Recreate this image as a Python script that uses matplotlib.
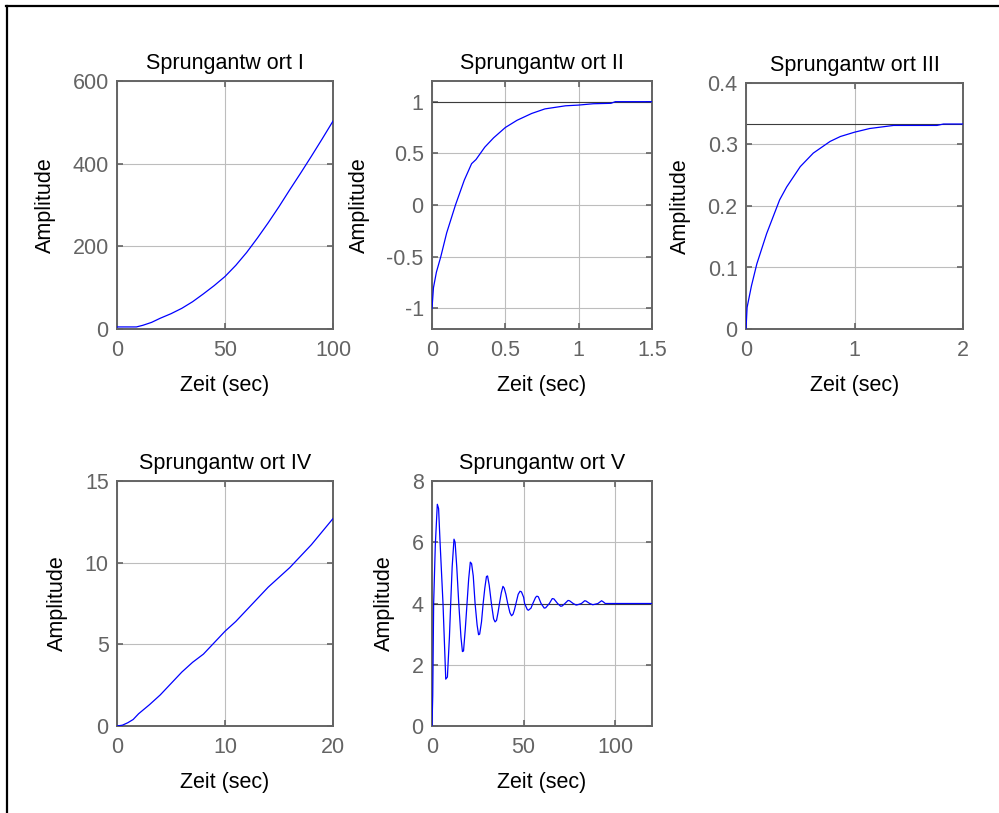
import matplotlib

matplotlib.use("Agg")
import matplotlib.pyplot as plt
from matplotlib.lines import Line2D

plt.rcParams["font.family"] = ["Liberation Sans", "DejaVu Sans"]
plt.rcParams["axes.unicode_minus"] = False

# Sprungantwort I
zeit_1 = [0, 5, 9, 12, 16, 20, 25, 30, 35, 40, 45, 50, 55, 60, 65, 70, 75, 80, 85, 90, 95, 100]
ampl_1 = [5, 5, 5, 9, 16, 26, 37, 50, 66, 85, 105, 127, 154, 185, 220, 257, 296, 337, 377, 418, 460, 503]

# Sprungantwort II
zeit_2 = [0, 0.01, 0.03, 0.06, 0.1, 0.16, 0.22, 0.27, 0.3, 0.36, 0.42, 0.5, 0.58, 0.68,
          0.77, 0.84, 0.91, 1.0, 1.1, 1.22, 1.25, 1.5]
ampl_2 = [-1, -0.8, -0.65, -0.5, -0.27, 0, 0.24, 0.4, 0.44, 0.56, 0.65, 0.75, 0.82, 0.886,
          0.93, 0.945, 0.96, 0.967, 0.98, 0.984, 1.0, 1.0]

# Sprungantwort III
zeit_3 = [0, 0.01, 0.05, 0.1, 0.19, 0.31, 0.375, 0.5, 0.62, 0.775, 0.87, 1.0, 1.14, 1.36,
          1.76, 1.82, 2.0]
ampl_3 = [0, 0.035, 0.07, 0.106, 0.155, 0.21, 0.231, 0.264, 0.286, 0.305, 0.313, 0.32,
          0.326, 0.331, 0.331, 0.3333, 0.3333]

# Sprungantwort IV
zeit_4 = [0, 0.5, 1, 1.5, 2, 3, 4, 5, 6, 7, 8, 9, 10, 11, 12, 13, 14, 15, 16, 17, 18, 19, 20]
ampl_4 = [0, 0.05, 0.2, 0.4, 0.75, 1.3, 1.9, 2.6, 3.3, 3.9, 4.4, 5.1, 5.8, 6.4, 7.1, 7.8,
          8.5, 9.1, 9.7, 10.4, 11.1, 11.9, 12.7]

# Sprungantwort V
zeit_5 = [0, 0.4, 0.9, 1.8, 2.9, 3.6, 4.4, 6.0, 7.5, 8.4, 9.5, 10.2, 11.0, 12.0, 12.6, 13.5,
          14.6, 15.8, 16.6, 17.2, 18.2, 19.1, 20.0, 20.9, 21.6, 22.5, 23.5, 24.6, 25.4, 26.0,
          27.0, 27.9, 28.8, 29.7, 30.3, 31.2, 32.4, 33.6, 34.4, 35.2, 36.0, 36.8, 37.8, 38.7,
          39.4, 40.3, 41.3, 42.5, 43.4, 44.2, 45.0, 45.8, 47.0, 48.0, 48.8, 50.0, 50.5, 52.0,
          52.6, 54.0, 55.0, 56.5, 57.2, 58.0, 59.5, 61.2, 62.0, 64.0, 65.6, 66.5, 68.5, 70.2,
          71.0, 72.5, 74.2, 75.0, 77.0, 78.6, 79.5, 81.5, 83.3, 84.0, 86.0, 87.7, 88.5, 90.5,
          92.5, 93.5, 94.5, 120]
ampl_5 = [0, 1.0, 4.0, 5.9, 7.24, 7.1, 6.0, 4.0, 1.53, 1.6, 2.9, 4.0, 5.2, 6.1, 6.0, 5.2,
          4.0, 2.9, 2.43, 2.45, 3.2, 4.0, 4.8, 5.35, 5.3, 4.9, 4.0, 3.3, 2.98, 3.0,
          3.4, 4.0, 4.5, 4.88, 4.9, 4.6, 4.0, 3.5, 3.4, 3.45, 3.7, 4.0, 4.35, 4.56,
          4.5, 4.3, 4.0, 3.7, 3.6, 3.65, 3.8, 4.0, 4.3, 4.4, 4.38, 4.2, 4.0, 3.8,
          3.78, 3.85, 4.0, 4.2, 4.24, 4.22, 4.0, 3.85, 3.86, 4.0, 4.16, 4.15, 4.0, 3.91,
          3.92, 4.0, 4.1, 4.09, 4.0, 3.95, 3.96, 4.0, 4.09, 4.08, 4.0, 3.96, 3.97, 4.0,
          4.09, 4.05, 4.0, 4.0]

titel = ["Sprungantw ort I", "Sprungantw ort II", "Sprungantw ort III",
         "Sprungantw ort IV", "Sprungantw ort V"]
endwerte = [None, 1.0, 0.3333, None, 4.0]
x_ticks = [[0, 50, 100], [0, 0.5, 1, 1.5], [0, 1, 2], [0, 10, 20], [0, 50, 100]]
x_labels = [["0", "50", "100"], ["0", "0.5", "1", "1.5"], ["0", "1", "2"],
            ["0", "10", "20"], ["0", "50", "100"]]
y_ticks = [[0, 200, 400, 600], [-1, -0.5, 0, 0.5, 1], [0, 0.1, 0.2, 0.3, 0.4],
           [0, 5, 10, 15], [0, 2, 4, 6, 8]]
y_labels = [["0", "200", "400", "600"], ["-1", "-0.5", "0", "0.5", "1"],
            ["0", "0.1", "0.2", "0.3", "0.4"], ["0", "5", "10", "15"],
            ["0", "2", "4", "6", "8"]]
x_lim = [(0, 100), (0, 1.5), (0, 2), (0, 20), (0, 120)]
y_lim = [(0, 600), (-1.2, 1.2), (0, 0.4), (0, 15), (0, 8)]

# Position der Achsen in Pixeln (links, oben, rechts, unten)
W, H = 999, 813
boxen = [
    (117, 81, 333, 329),
    (432, 81, 652, 329),
    (746, 83, 963, 329),
    (117, 481, 333, 726),
    (432, 481, 652, 726),
]
daten = [(zeit_1, ampl_1), (zeit_2, ampl_2), (zeit_3, ampl_3), (zeit_4, ampl_4), (zeit_5, ampl_5)]

FS = 15.5
GRAU = "#646464"

fig = plt.figure(figsize=(W / 100, H / 100), dpi=100)

for i, (box, (t, y)) in enumerate(zip(boxen, daten)):
    l, o, r, u = box
    ax = fig.add_axes([l / W, (H - u) / H, (r - l) / W, (u - o) / H])
    ax.grid(True, color="#bdbdbd", linewidth=0.8)
    ax.set_axisbelow(True)
    if endwerte[i] is not None:
        ax.axhline(endwerte[i], color="#3c3c3c", linewidth=0.8, zorder=2)
    ax.plot(t, y, color="#0000ff", linewidth=0.9, zorder=3)
    ax.set_xlim(*x_lim[i])
    ax.set_ylim(*y_lim[i])
    ax.set_xticks(x_ticks[i], x_labels[i])
    ax.set_yticks(y_ticks[i], y_labels[i])
    ax.tick_params(direction="in", length=4, width=1.2, color=GRAU, labelcolor=GRAU,
                   labelsize=FS, top=True, right=True)
    ax.tick_params(axis="x", pad=8)
    ax.tick_params(axis="y", pad=6)
    for sp in ax.spines.values():
        sp.set_color(GRAU)
        sp.set_linewidth(1.4)
    ax.set_title(titel[i], fontsize=FS, pad=9)
    ax.set_xlabel("Zeit (sec)", fontsize=FS, labelpad=10)
    ax.set_ylabel("Amplitude", fontsize=FS, labelpad=12)

# Rahmen oben und links
fig.add_artist(Line2D([6.5 / W, 6.5 / W], [0, 1 - 6 / H], transform=fig.transFigure,
                      color="black", linewidth=1.6))
fig.add_artist(Line2D([6 / W, 1], [1 - 6.5 / H, 1 - 6.5 / H], transform=fig.transFigure,
                      color="black", linewidth=1.6))

fig.savefig("out.png", dpi=100)
plt.close(fig)
